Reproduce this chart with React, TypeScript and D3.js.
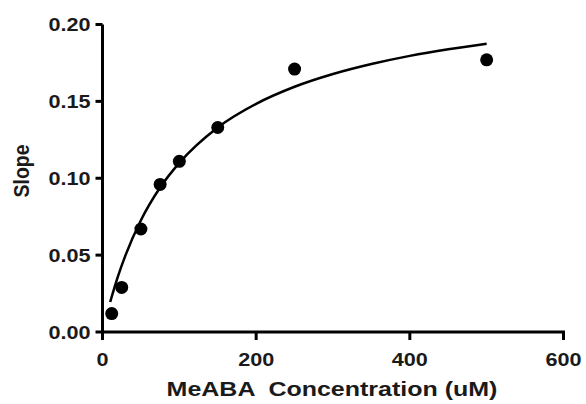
import React from "react";
import * as d3 from "d3";

const concentrations = [12, 25, 50, 75, 100, 150, 250, 500];
const slopes = [0.012, 0.029, 0.067, 0.096, 0.111, 0.133, 0.171, 0.177];

const fitX = [10, 20, 30, 50, 75, 100, 150, 200, 250, 300, 350, 400, 450, 500];
const fitY = [0.0195, 0.036, 0.05, 0.0727, 0.094, 0.11, 0.133, 0.1484, 0.1595, 0.1678, 0.1743, 0.1796, 0.1839, 0.1875];

const xTicks = [0, 200, 400, 600];
const yTicks = [0, 0.05, 0.1, 0.15, 0.2];

const W = 586;
const H = 404;

export default function App() {
  const x = d3.scaleLinear().domain([0, 600]).range([102.5, 563.5]);
  const y = d3.scaleLinear().domain([0, 0.2]).range([332, 24.5]);
  const line = d3
    .line<number>()
    .x((_, i) => x(fitX[i]))
    .y((d) => y(d))
    .curve(d3.curveMonotoneX);
  const font = "'Liberation Sans', Arial, sans-serif";
  const SX = 1.17;
  return (
    <svg
      width={W}
      height={H}
      style={{ position: "absolute", left: 0, top: 0, background: "#fff" }}
      fontFamily={font}
      fontWeight="bold"
    >
      <rect width={W} height={H} fill="#fff" />
      {/* y axis */}
      <line x1={x(0)} x2={x(0)} y1={y(0.2)} y2={y(0) + 1.5} stroke="#000" strokeWidth={3} />
      {yTicks.map((t) => (
        <g key={t}>
          <line x1={x(0) - 7} x2={x(0)} y1={y(t)} y2={y(t)} stroke="#000" strokeWidth={3} />
          <text
            transform={`translate(${x(0) - 12},${y(t)}) scale(${SX},1)`}
            dy="0.36em"
            textAnchor="end"
            fontSize={18.5}
            fill="#1a1a1a"
          >
            {t.toFixed(2)}
          </text>
        </g>
      ))}
      {/* x axis */}
      <line x1={x(0) - 1.5} x2={x(600) + 1.5} y1={y(0)} y2={y(0)} stroke="#000" strokeWidth={3} />
      {xTicks.map((t) => (
        <g key={t}>
          <line x1={x(t)} x2={x(t)} y1={y(0)} y2={y(0) + 8} stroke="#000" strokeWidth={3} />
          <text
            transform={`translate(${x(t)},366) scale(${SX},1)`}
            textAnchor="middle"
            fontSize={18.5}
            fill="#1a1a1a"
          >
            {t}
          </text>
        </g>
      ))}
      <text
        transform={`translate(332,396) scale(1.25,1)`}
        textAnchor="middle"
        fontSize={20}
        fill="#1a1a1a"
        style={{ whiteSpace: "pre" }}
      >
        {"MeABA  Concentration (uM)"}
      </text>
      <text
        transform="translate(29,171) scale(1.12,1) rotate(-90)"
        textAnchor="middle"
        fontSize={19.5}
        fill="#1a1a1a"
      >
        Slope
      </text>
      <path d={line(fitY) || ""} fill="none" stroke="#000" strokeWidth={2.5} />
      {concentrations.map((c, i) => (
        <circle key={c} cx={x(c)} cy={y(slopes[i])} r={6.5} fill="#000" />
      ))}
    </svg>
  );
}
